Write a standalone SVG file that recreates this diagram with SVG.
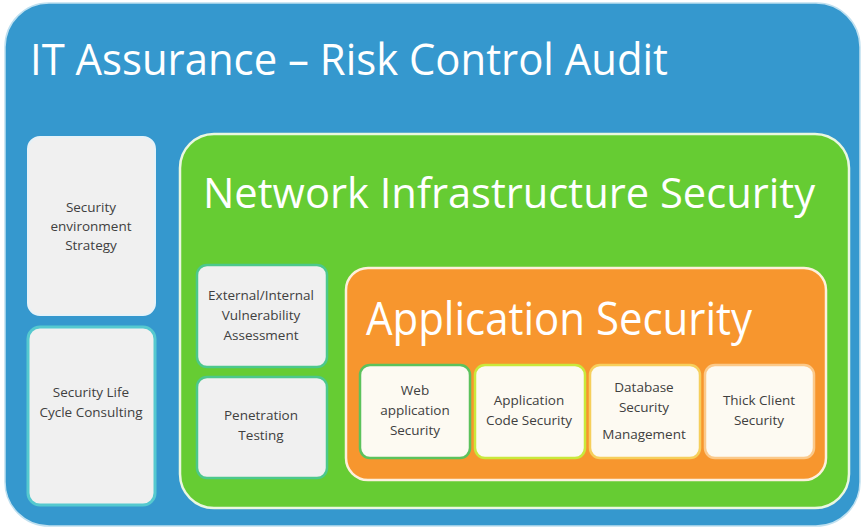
<svg xmlns="http://www.w3.org/2000/svg" width="861" height="529" viewBox="0 0 861 529">
<style>
.big{font-family:"Open Sans","DejaVu Sans",sans-serif;fill:#ffffff;}
.sm{font-family:"Open Sans","DejaVu Sans",sans-serif;font-size:13.5px;fill:#404040;text-anchor:middle;}
.gbox{fill:#f0f0f0;}
.cbox{fill:#fdfaf2;stroke-width:2.5;}
</style>
<rect x="0" y="0" width="861" height="529" fill="#ffffff"/>
<g id="it-assurance">
<rect x="5" y="3" width="855" height="523" rx="44" fill="#3598ce" stroke="#bfe0f0" stroke-width="1.5"/>
<text class="big" x="30" y="75" font-size="44" textLength="638" lengthAdjust="spacingAndGlyphs">IT Assurance – Risk Control Audit</text>
</g>
<g id="security-environment-strategy">
<rect class="gbox" x="28" y="137" width="127" height="178" rx="12" stroke="#e6f2f8" stroke-width="2"/>
<text class="sm" x="91" y="212">Security</text>
<text class="sm" x="91" y="231">environment</text>
<text class="sm" x="91" y="250">Strategy</text>
</g>
<g id="security-life-cycle">
<rect class="gbox" x="28" y="327" width="127" height="178" rx="12" stroke="#55c9cf" stroke-width="3"/>
<text class="sm" x="91" y="397">Security  Life</text>
<text class="sm" x="91" y="417">Cycle Consulting</text>
</g>
<g id="network-infrastructure">
<rect x="180" y="134" width="669" height="374" rx="34" fill="#66cc33" stroke="#eaf7e0" stroke-width="2.5"/>
<text class="big" x="203" y="208" font-size="42" textLength="612" lengthAdjust="spacingAndGlyphs">Network Infrastructure Security</text>
</g>
<g id="vulnerability-assessment">
<rect class="gbox" x="197" y="265" width="130" height="102" rx="10" stroke="#4cc88c" stroke-width="2.5"/>
<text class="sm" x="261" y="300">External/Internal</text>
<text class="sm" x="261" y="320">Vulnerability</text>
<text class="sm" x="261" y="340">Assessment</text>
</g>
<g id="penetration-testing">
<rect class="gbox" x="197" y="377" width="130" height="101" rx="10" stroke="#4cc88c" stroke-width="2.5"/>
<text class="sm" x="261" y="420">Penetration</text>
<text class="sm" x="261" y="440">Testing</text>
</g>
<g id="application-security">
<rect x="346" y="268" width="480" height="212" rx="22" fill="#f7962e" stroke="#fdf0dc" stroke-width="2.5"/>
<text class="big" x="366" y="335" font-size="45" textLength="386" lengthAdjust="spacingAndGlyphs">Application Security</text>
</g>
<g id="web-application-security">
<rect class="cbox" x="360" y="365" width="110" height="93" rx="10" stroke="#5cc25c"/>
<text class="sm" x="415" y="395">Web</text>
<text class="sm" x="415" y="415">application</text>
<text class="sm" x="415" y="435">Security</text>
</g>
<g id="application-code-security">
<rect class="cbox" x="475" y="365" width="110" height="93" rx="10" stroke="#c9e83c"/>
<text class="sm" x="529" y="405">Application</text>
<text class="sm" x="529" y="425">Code Security</text>
</g>
<g id="database-security-management">
<rect class="cbox" x="590" y="365" width="110" height="93" rx="10" stroke="#f6cf5c"/>
<text class="sm" x="644" y="392">Database</text>
<text class="sm" x="644" y="412">Security</text>
<text class="sm" x="644" y="439">Management</text>
</g>
<g id="thick-client-security">
<rect class="cbox" x="705" y="365" width="109" height="93" rx="10" stroke="#fbc98a"/>
<text class="sm" x="759" y="405">Thick Client</text>
<text class="sm" x="759" y="425">Security</text>
</g>
<g id="connectors"></g>
</svg>
